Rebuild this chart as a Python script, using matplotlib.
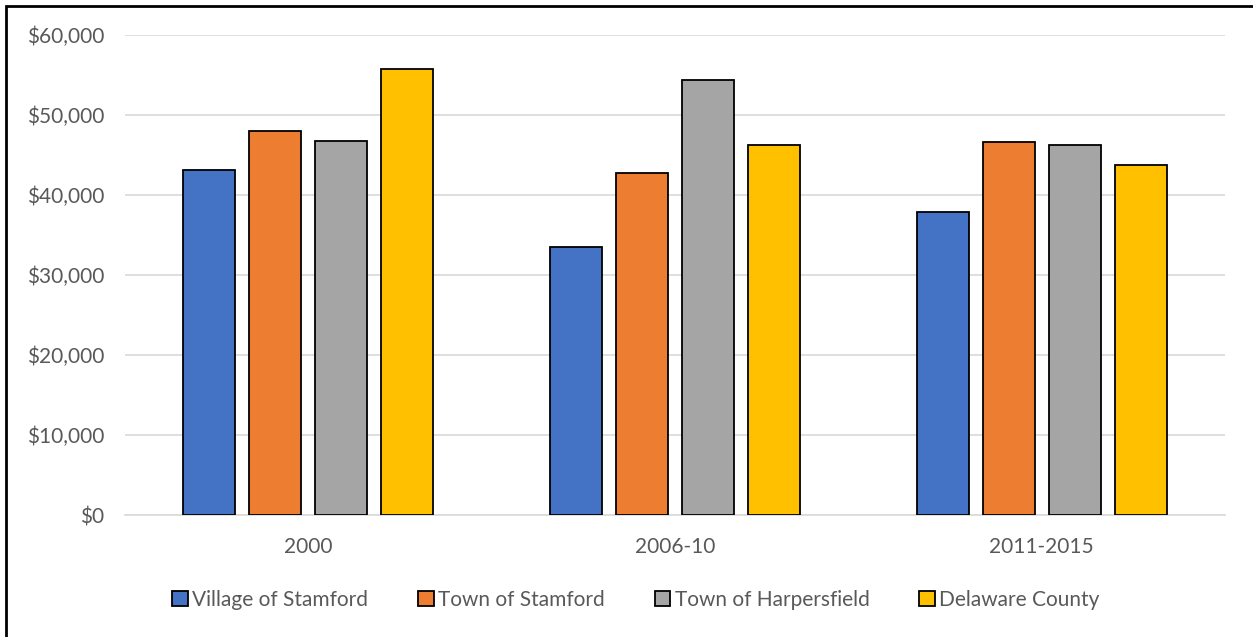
import numpy as np
import matplotlib.pyplot as plt
from matplotlib.patches import Rectangle
from matplotlib.ticker import FuncFormatter

plt.rcParams['font.family'] = ['Lato', 'DejaVu Sans']

# median household income by period
periods = ['2000', '2006-10', '2011-2015']
series = ['Village of Stamford', 'Town of Stamford', 'Town of Harpersfield', 'Delaware County']
village_stamford = [43100, 33500, 37900]
town_stamford = [48000, 42700, 46600]
town_harpersfield = [46800, 54350, 46200]
delaware_county = [55800, 46200, 43700]
colors = ['#4472C4', '#ED7D31', '#A5A5A5', '#FFC000']

values = [village_stamford, town_stamford, town_harpersfield, delaware_county]

fig = plt.figure(figsize=(12.53, 6.37), dpi=100)
ax = fig.add_axes([125/1253, 122/637, 1100/1253, 480/637])

x = np.arange(len(periods))
width = 0.142
step = 0.18
offsets = (np.arange(len(series)) - 1.5) * step
for vals, name, col, off in zip(values, series, colors, offsets):
    ax.bar(x + off, vals, width, color=col, edgecolor='black', linewidth=1.3,
           label=name, zorder=3)

ax.set_xlim(-0.5, 2.5)
ax.set_ylim(0, 60000)
ax.set_yticks(np.arange(0, 60001, 10000))
ax.yaxis.set_major_formatter(FuncFormatter(lambda v, p: '${:,.0f}'.format(v)))
ax.set_xticks(x)
ax.set_xticklabels(periods)
ax.grid(axis='y', color='#D9D9D9', linewidth=1.2, zorder=0)
for s in ['top', 'right', 'left']:
    ax.spines[s].set_visible(False)
ax.spines['bottom'].set_color('#D9D9D9')
ax.spines['bottom'].set_linewidth(1.2)
ax.tick_params(axis='both', length=0, labelsize=15, labelcolor='#595959')
ax.tick_params(axis='y', pad=15)
ax.tick_params(axis='x', pad=16)

leg = fig.legend(loc='center', bbox_to_anchor=(636/1253, 1 - 600/637), ncol=4,
                 frameon=False, fontsize=15, handlelength=0.75, handleheight=0.75,
                 handletextpad=0.2, columnspacing=2.4)
for t in leg.get_texts():
    t.set_color('#595959')

# outer frame
fig.patches.append(Rectangle((6/1253, -0.1), 1.2, 1 - 6/637 + 0.1, transform=fig.transFigure,
                             fill=False, edgecolor='black', linewidth=2))

fig.savefig('out.png', dpi=100)
